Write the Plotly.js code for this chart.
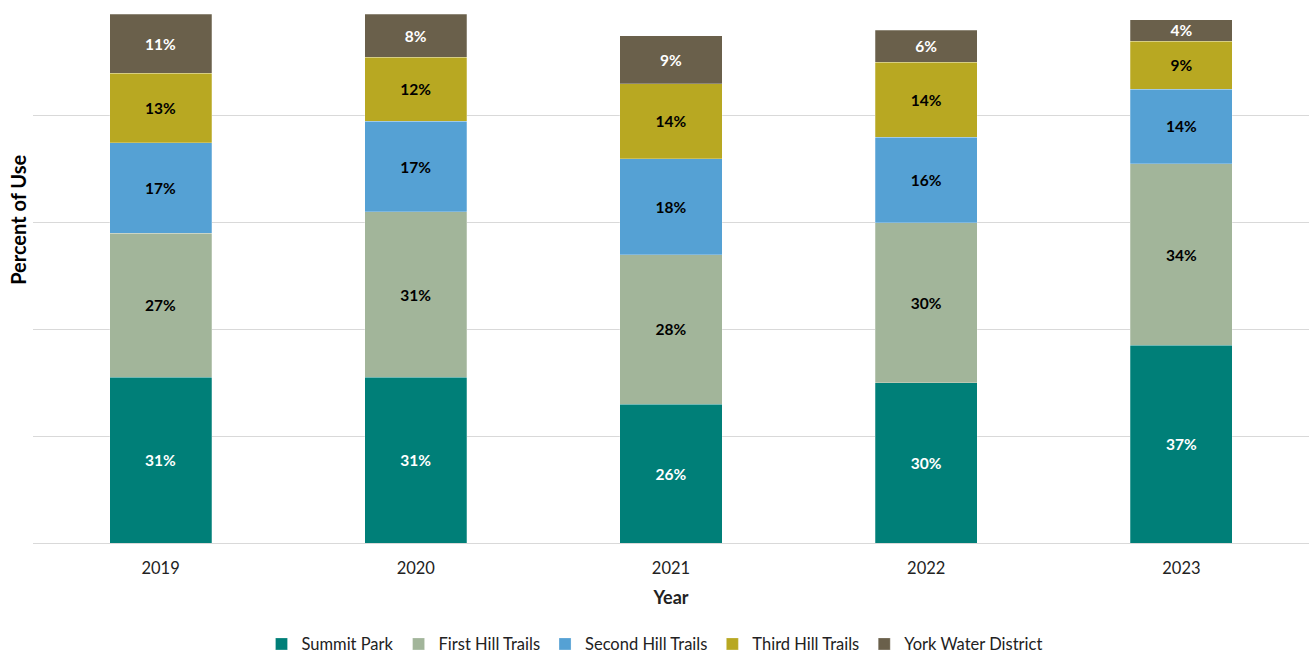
<!DOCTYPE html>
<html><head><meta charset="utf-8">
<script src="https://cdn.plot.ly/plotly-3.0.1.min.js"></script>
<style>body{margin:0;background:#fff}#chart{width:1309px;height:656px}</style>
</head><body><div id="chart"></div>
<script>
const years = ['2019','2020','2021','2022','2023'];
const summitPark = [31,31,26,30,37];
const firstHill = [27,31,28,30,34];
const secondHill = [17,17,18,16,14];
const thirdHill = [13,12,14,14,9];
const yorkWater = [11,8,9,6,4];
const seriesNames = ['Summit Park','First Hill Trails','Second Hill Trails','Third Hill Trails','York Water District'];
const seriesColors = ['#007F78','#A2B59A','#55A1D4','#B8A822','#6A604B'];
const textColors = ['#ffffff','#000000','#000000','#000000','#ffffff'];
const allSeries = [summitPark, firstHill, secondHill, thirdHill, yorkWater];
const FONT = 'Lato, "Noto Sans", sans-serif';
const traces = allSeries.map((vals,i)=>({
  type:'bar', x:years, y:vals, name:seriesNames[i],
  marker:{color:seriesColors[i], line:{color:'rgba(255,255,255,0.5)', width:0.5}},
  text:vals.map(v=>v+'%'), textposition:'inside', insidetextanchor:'middle', constraintext:'none',
  textfont:{family:FONT, size:15.5, color:textColors[i], weight:'bold'},
  hoverinfo:'skip'
}));
const layout = {
  barmode:'stack', bargap:0.6,
  width:1309, height:656,
  margin:{l:33, r:0, t:9, b:113},
  paper_bgcolor:'#fff', plot_bgcolor:'#fff',
  font:{family:FONT, color:'#222'},
  xaxis:{automargin:false, title:{text:'<b>Year</b>', font:{size:18, color:'#222'}, standoff:14},
    tickfont:{size:16.5, color:'#222'}, ticklabelstandoff:10, showline:true, linecolor:'#d9d9d9', ticks:''},
  yaxis:{automargin:false, range:[0,100], dtick:20, showticklabels:false, gridcolor:'#d9d9d9', zeroline:false},
  annotations:[{text:'<b>Percent of Use</b>', textangle:-90, xref:'paper', yref:'paper',
    x:-0.0118, y:0.605, xanchor:'center', yanchor:'middle', showarrow:false,
    font:{family:FONT, size:20, color:'#000'}}],
  legend:{orientation:'h', x:0.5, xanchor:'center', xref:'container', yref:'container', y:0.018, yanchor:'middle',
    font:{size:16.5, color:'#222'}, traceorder:'normal'},
  showlegend:true
};
Plotly.newPlot('chart', traces, layout, {displayModeBar:false, staticPlot:true});
</script></body></html>
